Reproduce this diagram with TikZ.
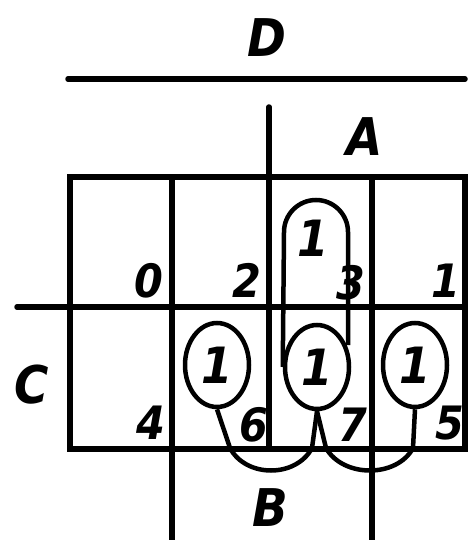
\documentclass[tikz,border=0pt]{standalone}
\usepackage{fontspec}
\setsansfont{DejaVu Sans Condensed}
\usepackage{tikz}
\usetikzlibrary{shapes.geometric}

\tikzset{
  grid/.style={line width=5.5pt, line cap=round},
  loop/.style={line width=4.5pt},
  var/.style={font=\fontsize{52}{52}\selectfont\sffamily\bfseries\itshape, inner sep=0pt},
  idx/.style={font=\fontsize{46}{46}\selectfont\sffamily\bfseries\itshape, anchor=south east, inner sep=0pt},
  one/.style={draw, ellipse, loop, minimum width=64pt, minimum height=84pt, inner sep=0pt,
    font=\fontsize{50}{50}\selectfont\sffamily\bfseries\itshape},
}

\begin{document}
\begin{tikzpicture}[x=1pt, y=-1pt]
  \useasboundingbox (0,0) rectangle (472,540);
  % outer box and inner lines
  \draw[grid] (70,177) rectangle (465,449);
  \draw[grid] (17,307) -- (465,307);
  \draw[grid] (68,79) -- (465,79);
  \draw[grid] (269,107) -- (269,449);
  \draw[grid] (172,177) -- (172,540);
  \draw[grid] (372,177) -- (372,540);
  % variable labels
  \node[var] (labD) at (267,38) {D};
  \node[var] (labA) at (365,137) {A};
  \node[var] (labC) at (32,385) {C};
  \node[var] (labB) at (270,508) {B};
  % cell numbers
  \node[idx] (n0) at (163,298) {0};
  \node[idx] (n2) at (261,298) {2};
  \node[idx] (n3) at (365,300) {3};
  \node[idx] (n1) at (460,298) {1};
  \node[idx] (n4) at (165,440) {4};
  \node[idx] (n6) at (268,442) {6};
  \node[idx] (n7) at (367,442) {7};
  \node[idx] (n5) at (464,440) {5};
  % ones
  \node[font=\fontsize{50}{50}\selectfont\sffamily\bfseries\itshape] (o3) at (313,238) {1};
  \node[one] (e6) at (217,365) {1};
  \node[one] (e7) at (317,367) {1};
  \node[one] (e5) at (415,365) {1};
  % loop over 3 and 7
  \draw[loop] (e7.west) -- (284,232) arc[start angle=180, end angle=360, radius=32] -- (348,345);
  % tails joined under the box
  \draw[loop] (e6.south) -- (230,448) .. controls (246,478) and (296,478) .. (312,448) -- (e7.south);
  \draw[loop] (e7.south) -- (326,448) .. controls (343,478) and (397,478) .. (413,448) -- (e5.south);
\end{tikzpicture}
\end{document}
